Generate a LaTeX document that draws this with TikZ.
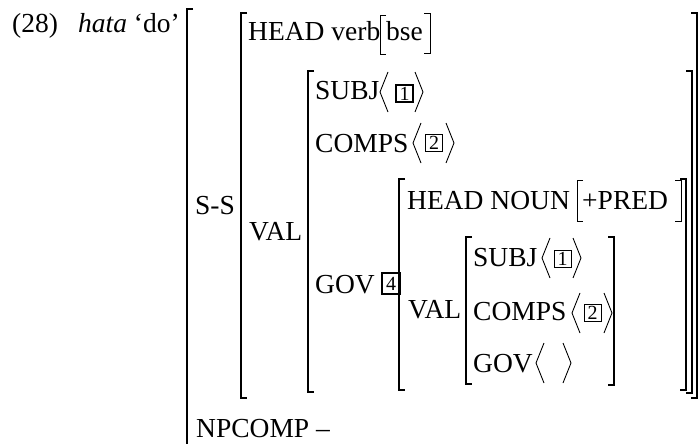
\documentclass[tikz,border=0pt]{standalone}
\usepackage{fontspec}
\setmainfont{Liberation Serif}

% square brackets: [style]{x}{top}{bottom}
\newcommand{\lbr}[4][brk]{\draw[#1] ({#2+6},#3) -- (#2,#3) -- (#2,#4) -- ({#2+6},#4);}
\newcommand{\rbr}[4][brk]{\draw[#1] ({#2-6},#3) -- (#2,#3) -- (#2,#4) -- ({#2-6},#4);}
% angle brackets: {x}{middle}
\newcommand{\lang}[2]{\draw[ang] ({#1+8},{#2-20}) -- (#1,#2) -- ({#1+8},{#2+20});}
\newcommand{\rang}[2]{\draw[ang] (#1,{#2-20}) -- ({#1+8},#2) -- (#1,{#2+20});}

\begin{document}
\begin{tikzpicture}[x=1pt, y=-1pt,
  lbl/.style={anchor=base west, inner sep=0pt, font=\fontsize{27.5}{32}\selectfont},
  tag/.style={draw, line width=1.3pt, minimum width=17pt, minimum height=17pt,
    inner sep=0pt, font=\fontsize{20}{20}\selectfont},
  brk/.style={line width=1.5pt},
  thinbrk/.style={line width=0.9pt},
  ang/.style={line width=0.9pt}]

\useasboundingbox (0,0) rectangle (698,444);

% example number and word
\node[lbl] (num) at (12,33) {(28)};
\node[lbl] (word) at (78,33) {\textit{hata} `do'};

% outer matrix
\draw[brk] (193,9) -- (187,9) -- (187,444);
\node[lbl] (ss) at (195,214) {S-S};
\node[lbl] (npcomp) at (196,437) {NPCOMP \textendash};

% S-S value
\lbr{241}{13}{398}
\rbr{697}{13}{398}
\node[lbl] (head) at (248,41) {HEAD verb};
\lbr[thinbrk]{380}{15}{54}
\node[lbl] (bse) at (386,41) {bse};
\rbr[thinbrk]{430}{13}{53}
\node[lbl] (val) at (249,240) {VAL};

% VAL value
\lbr{308}{71}{392}
\rbr{692}{71}{393}
\node[lbl] (subj) at (315,99) {SUBJ};
\lang{380}{92}
\node[tag] (t1) at (404.5,93.5) {1};
\rang{415}{92}
\node[lbl] (comps) at (315,152) {COMPS};
\lang{413}{143}
\node[tag] (t2) at (434,143) {2};
\rang{446}{143}
\node[lbl] (gov) at (315,293) {GOV};
\node[tag, minimum width=18pt, minimum height=21pt] (t4) at (391,283.5) {4};

% GOV value
\lbr{399}{179}{390}
\rbr{686}{179}{390}
\node[lbl] (headn) at (407,209) {HEAD NOUN};
\lbr[thinbrk]{577}{180}{221}
\node[lbl] (pred) at (582,209) {+PRED};
\rbr[thinbrk]{681}{180}{221}
\node[lbl] (ival) at (408,318) {VAL};

% inner VAL value
\lbr{466}{237}{384}
\rbr{614}{237}{385}
\node[lbl] (isubj) at (473,266) {SUBJ};
\lang{542}{258}
\node[tag, line width=1pt] (it1) at (562.5,259) {1};
\rang{573}{258}
\node[lbl] (icomps) at (473,320) {COMPS};
\lang{572}{313}
\node[tag, line width=1pt] (it2) at (592.5,313) {2};
\rang{604}{313}
\node[lbl] (igov) at (473,372) {GOV};
\lang{536}{363}
\rang{563}{363}

\end{tikzpicture}
\end{document}
